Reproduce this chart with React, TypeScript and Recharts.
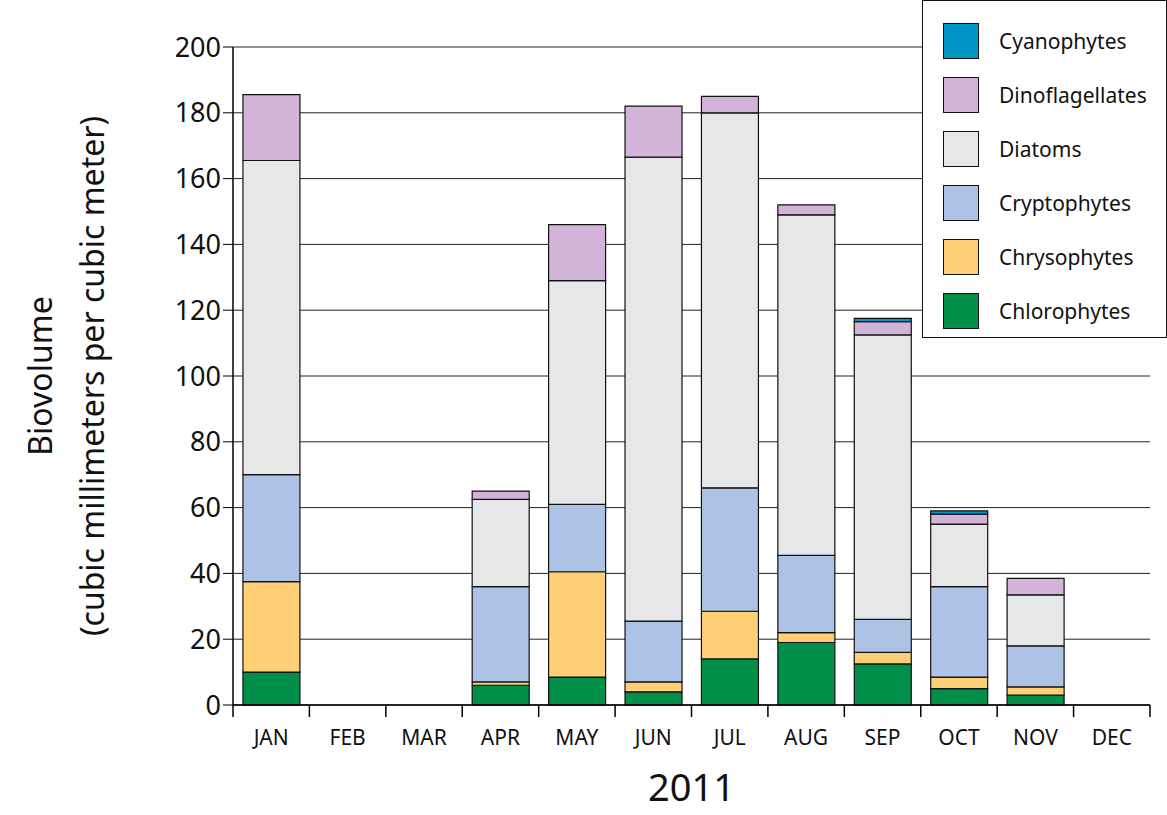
import { BarChart, Bar, XAxis, YAxis, CartesianGrid } from "recharts"

const months = ["JAN", "FEB", "MAR", "APR", "MAY", "JUN", "JUL", "AUG", "SEP", "OCT", "NOV", "DEC"]
const chlorophytes = [10, 0, 0, 6, 8.5, 4, 14, 19, 12.5, 5, 3, 0]
const chrysophytes = [27.5, 0, 0, 1, 32, 3, 14.5, 3, 3.5, 3.5, 2.5, 0]
const cryptophytes = [32.5, 0, 0, 29, 20.5, 18.5, 37.5, 23.5, 10, 27.5, 12.5, 0]
const diatoms = [95.5, 0, 0, 26.5, 68, 141, 114, 103.5, 86.5, 19, 15.5, 0]
const dinoflagellates = [20, 0, 0, 2.5, 17, 15.5, 5, 3, 4, 3, 5, 0]
const cyanophytes = [0, 0, 0, 0, 0, 0, 0, 0, 1, 1, 0, 0]
const yTicks = [0, 20, 40, 60, 80, 100, 120, 140, 160, 180, 200]

const series = [
  { key: "Chlorophytes", values: chlorophytes, color: "#00904a" },
  { key: "Chrysophytes", values: chrysophytes, color: "#fecf76" },
  { key: "Cryptophytes", values: cryptophytes, color: "#adc3e6" },
  { key: "Diatoms", values: diatoms, color: "#e6e7e9" },
  { key: "Dinoflagellates", values: dinoflagellates, color: "#d2b4d8" },
  { key: "Cyanophytes", values: cyanophytes, color: "#0096c8" },
]

const data = months.map((m, i) => {
  const row: Record<string, string | number> = { month: m }
  series.forEach((s) => (row[s.key] = s.values[i]))
  return row
})

const font = "Noto Sans, sans-serif"

function MonthTick(props: any) {
  const { x, y, payload, index } = props
  const band = 917 / 12
  return (
    <g>
      <line x1={x - band / 2} x2={x - band / 2} y1={y - 8} y2={y + 4} stroke="#000" strokeWidth={1.5} />
      {index === 11 && <line x1={x + band / 2} x2={x + band / 2} y1={y - 8} y2={y + 4} stroke="#000" strokeWidth={1.5} />}
      <text x={x} y={y + 32} textAnchor="middle" fontSize={21} fontFamily={font} fill="#111">{payload.value}</text>
    </g>
  )
}

function YLabel() {
  return (
    <text transform="translate(0,376) rotate(-90)" textAnchor="middle" fontSize={32} fontFamily={font} fill="#111">
      <tspan x={0} y={52}>Biovolume</tspan>
      <tspan x={0} y={104}>(cubic millimeters per cubic meter)</tspan>
    </text>
  )
}

export default function App() {
  return (
    <div style={{ position: "absolute", left: 0, top: 0, width: 1167, height: 815, background: "#fff", fontFamily: font }}>
      <BarChart width={1167} height={815} data={data} margin={{ top: 47, right: 17, left: 0, bottom: 0 }} barCategoryGap="13%">
        <CartesianGrid vertical={false} stroke="#222" strokeWidth={1} />
        <XAxis
          dataKey="month"
          height={110}
          tick={<MonthTick />}
          tickLine={false}
          axisLine={{ stroke: "#000", strokeWidth: 1.5 }}
          label={{ value: "2011", position: "insideBottom", offset: 14, fontSize: 38, fontFamily: font, fill: "#111" }}
        />
        <YAxis
          width={233}
          domain={[0, 200]}
          ticks={yTicks}
          tick={{ fontSize: 27, fill: "#111", fontFamily: font }}
          tickLine={{ stroke: "#000" }}
          tickSize={10}
          axisLine={{ stroke: "#000", strokeWidth: 1.5 }}
          label={<YLabel />}
        />
        {series.map((s) => (
          <Bar key={s.key} dataKey={s.key} stackId="a" fill={s.color} stroke="#111" strokeWidth={1.2} isAnimationActive={false} />
        ))}
      </BarChart>
      <div style={{ position: "absolute", left: 922, top: 0, width: 245, height: 338, boxSizing: "border-box", border: "1.5px solid #111", background: "#fff" }}>
        {[...series].reverse().map((s, i) => (
          <div key={s.key} style={{ position: "absolute", left: 20, top: 22 + i * 54, display: "flex", alignItems: "center" }}>
            <div style={{ width: 36, height: 36, boxSizing: "border-box", background: s.color, border: "1.2px solid #111" }} />
            <span style={{ marginLeft: 20, fontSize: 21, color: "#111" }}>{s.key}</span>
          </div>
        ))}
      </div>
    </div>
  )
}
